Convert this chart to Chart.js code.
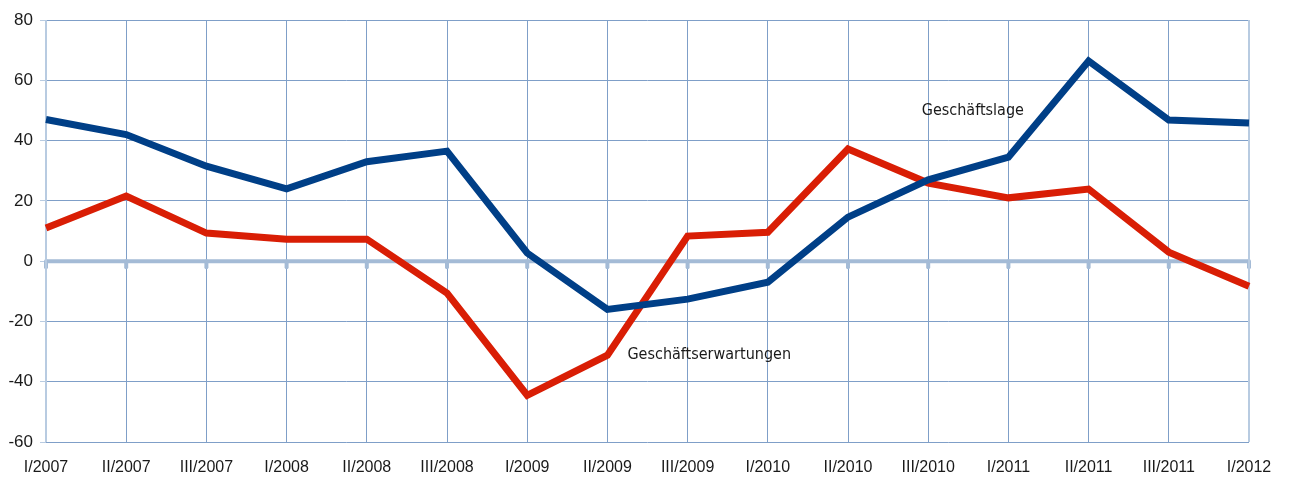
<!DOCTYPE html>
<html>
<head>
<meta charset="utf-8">
<script src="https://cdn.jsdelivr.net/npm/chart.js@4"></script>
<style>
  html, body { margin: 0; padding: 0; background: #fff; }
  #wrap { width: 1289px; height: 480px; }
</style>
</head>
<body>
<div id="wrap"><canvas id="chart"></canvas></div>
<script>
// DATA
const quarters = ["I/2007", "II/2007", "III/2007", "I/2008", "II/2008", "III/2008", "I/2009", "II/2009",
  "III/2009", "I/2010", "II/2010", "III/2010", "I/2011", "II/2011", "III/2011", "I/2012"];
const geschaeftslage = [47, 42, 31.5, 24, 33, 36.5, 2.7, -16, -12.6, -7, 14.6, 27, 34.5, 66.4, 46.8, 45.8];
const geschaeftserwartungen = [11, 21.6, 9.3, 7.3, 7.3, -10.6, -44.5, -31.2, 8.3, 9.6, 37.2, 25.9, 21, 23.9, 3, -8.3];
const yMin = -60, yMax = 80, yStep = 20;

// labels placed next to the lines (category index, y value)
const seriesLabels = [
  { text: "Geschäftslage", at: 10.92, y: 50 },
  { text: "Geschäftserwartungen", at: 7.25, y: -31 }
];

const BLUE = "#003f87";
const RED = "#d91e05";
const GRID = "#7f9fc8";
const AXIS = "#a4bbd6";

// zero line, its little ticks, right border and series labels
const extras = {
  id: "extras",
  beforeDatasetsDraw(chart) {
    const { ctx, chartArea: a, scales: { x, y } } = chart;
    const y0 = y.getPixelForValue(0);
    ctx.save();
    ctx.strokeStyle = AXIS;
    ctx.lineWidth = 4;
    ctx.beginPath();
    ctx.moveTo(a.left, y0);
    ctx.lineTo(a.right, y0);
    ctx.stroke();
    ctx.lineCap = "round";
    quarters.forEach((q, i) => {
      const px = x.getPixelForValue(i);
      ctx.beginPath();
      ctx.moveTo(px, y0);
      ctx.lineTo(px, y0 + 6);
      ctx.stroke();
    });
    ctx.lineCap = "butt";
    ctx.lineWidth = 2;
    ctx.strokeStyle = "#b8cbe1";
    ctx.beginPath();
    ctx.moveTo(a.left, a.top);
    ctx.lineTo(a.left, a.bottom);
    ctx.moveTo(a.right, a.top);
    ctx.lineTo(a.right, a.bottom);
    ctx.stroke();
    ctx.restore();
  },
  afterDatasetsDraw(chart) {
    const { ctx, scales: { x, y } } = chart;
    ctx.save();
    ctx.fillStyle = "#1a1a1a";
    ctx.font = '16px "DejaVu Sans Condensed", "DejaVu Sans", sans-serif';
    ctx.textBaseline = "middle";
    seriesLabels.forEach((l) => {
      ctx.fillText(l.text, x.getPixelForValue(l.at), y.getPixelForValue(l.y));
    });
    ctx.restore();
  }
};

const ctx = document.getElementById("chart").getContext("2d");

new Chart(ctx, {
  type: "line",
  data: {
    labels: quarters,
    datasets: [
      {
        label: "Geschäftslage",
        data: geschaeftslage,
        borderColor: BLUE,
        borderWidth: 7,
        pointRadius: 0,
        tension: 0
      },
      {
        label: "Geschäftserwartungen",
        data: geschaeftserwartungen,
        borderColor: RED,
        borderWidth: 7,
        pointRadius: 0,
        tension: 0
      }
    ]
  },
  options: {
    responsive: true,
    maintainAspectRatio: false,
    animation: false,
    layout: { padding: { top: 20, right: 40, left: 0, bottom: 0 } },
    plugins: { legend: { display: false }, tooltip: { enabled: false } },
    scales: {
      x: {
        offset: false,
        grid: { color: GRID, lineWidth: 1, drawTicks: false },
        border: { display: false },
        ticks: {
          color: "#1a1a1a",
          font: { family: "Liberation Sans", size: 16 },
          padding: 16,
          maxRotation: 0,
          autoSkip: false
        },
        afterFit(s) { s.height = 38; }
      },
      y: {
        min: yMin,
        max: yMax,
        grid: { color: GRID, lineWidth: 1, tickLength: 6, tickColor: "#b8cbe1" },
        border: { display: false },
        ticks: {
          stepSize: yStep,
          color: "#1a1a1a",
          font: { family: "Liberation Sans", size: 17 },
          padding: 7
        },
        afterFit(s) { s.width = 46; }
      }
    }
  },
  plugins: [extras]
});
</script>
</body>
</html>
